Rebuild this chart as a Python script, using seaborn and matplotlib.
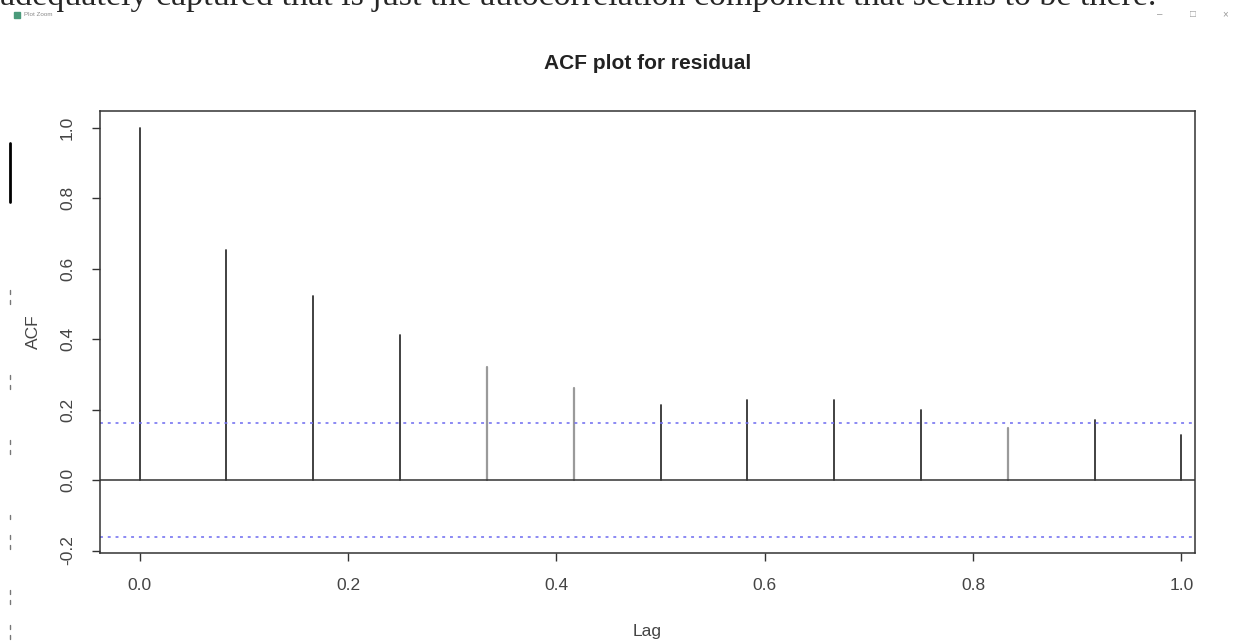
import numpy as np
import pandas as pd
import matplotlib
matplotlib.use("Agg")
import matplotlib.pyplot as plt
import seaborn as sns
from matplotlib.lines import Line2D

# ACF values, lags in years (monthly data)
lags = [0, 1/12, 2/12, 3/12, 4/12, 5/12, 6/12, 7/12, 8/12, 9/12, 10/12, 11/12, 1.0]
acf_vals = [1.0, 0.653, 0.523, 0.412, 0.321, 0.261, 0.212, 0.227, 0.227, 0.200, 0.149, 0.171, 0.127]
stem_grey = [False, False, False, False, True, True, False, False, False, False, True, False, False]
conf_limit = 0.162
x_ticks = [0.0, 0.2, 0.4, 0.6, 0.8, 1.0]
y_ticks = [-0.2, 0.0, 0.2, 0.4, 0.6, 0.8, 1.0]

sns.set_style("white")
plt.rcParams['font.family'] = ['Liberation Sans', 'DejaVu Sans']

# long table: each lag gives one vertical segment from 0 to its acf
rows = []
for i, (lg, v) in enumerate(zip(lags, acf_vals)):
    rows.append({'lag': lg, 'acf': 0.0, 'id': i, 'grey': stem_grey[i]})
    rows.append({'lag': lg, 'acf': v, 'id': i, 'grey': stem_grey[i]})
df = pd.DataFrame(rows)

fig = plt.figure(figsize=(12.39, 6.41), dpi=100)
ax = fig.add_axes([100/1239, 1 - 553/641, 1095/1239, 442/641])

sns.lineplot(data=df[~df['grey']], x='lag', y='acf', units='id', estimator=None,
             color='#333333', lw=1.3, ax=ax, sort=False)
sns.lineplot(data=df[df['grey']], x='lag', y='acf', units='id', estimator=None,
             color='#9a9a9a', lw=1.6, ax=ax, sort=False)

ax.axhline(0, color='#333333', lw=1.1)
ax.axhline(conf_limit, color='#6f6cf0', lw=1.4, ls=(0, (1.5, 2.5)), alpha=0.8)
ax.axhline(-conf_limit, color='#6f6cf0', lw=1.4, ls=(0, (1.5, 2.5)), alpha=0.8)

ax.set_xlim(-0.038, 1.013)
ax.set_ylim(-0.207, 1.048)
ax.set_xticks(x_ticks)
ax.set_xticklabels([f'{t:.1f}' for t in x_ticks])
ax.set_yticks(y_ticks)
ax.set_yticklabels([f'{t:.1f}' for t in y_ticks], rotation=90, va='center')
ax.tick_params(axis='both', direction='out', length=6, width=1, color='#333333',
               labelsize=12.5, labelcolor='#444444', bottom=True, left=True, pad=12)
for s in ax.spines.values():
    s.set_color('#333333')
    s.set_linewidth(1.1)

ax.set_xlabel('Lag', fontsize=12.5, color='#444444', labelpad=22)
ax.set_ylabel('ACF', fontsize=12.5, color='#444444', labelpad=14)
ax.set_title('ACF plot for residual', fontsize=15, fontweight='bold', color='#222222', pad=30)

# screenshot chrome around the plot
fig.text(0.0, 641 - 5, 'adequately captured that is just the autocorrelation component that seems to be there.',
         transform=None, fontsize=24.5, family='Liberation Serif', va='baseline', ha='left')
fig.text(24/1239, 1 - 15/641, 'Plot Zoom', fontsize=4.5, color='#888888', va='center')
fig.add_artist(plt.Rectangle((14/1239, 1 - 18/641), 6/1239, 6/641, color='#4a9a7a',
                             transform=fig.transFigure))
fig.text(1160/1239, 1 - 14/641, '–', fontsize=7, color='#999999', va='center', ha='center')
fig.text(1193/1239, 1 - 14/641, '□', fontsize=7, color='#999999', va='center', ha='center')
fig.text(1225/1239, 1 - 14/641, '×', fontsize=7, color='#999999', va='center', ha='center')
fig.add_artist(Line2D([10/1239, 10/1239], [1 - 143/641, 1 - 202/641], color='black', lw=2))
for y0 in [290, 300, 375, 385, 440, 450, 515, 535, 545, 590, 600, 625, 635]:
    fig.add_artist(Line2D([10/1239, 10/1239], [1 - y0/641, 1 - (y0 + 4)/641], color='#777777', lw=1))

fig.savefig('out.png', dpi=100)
